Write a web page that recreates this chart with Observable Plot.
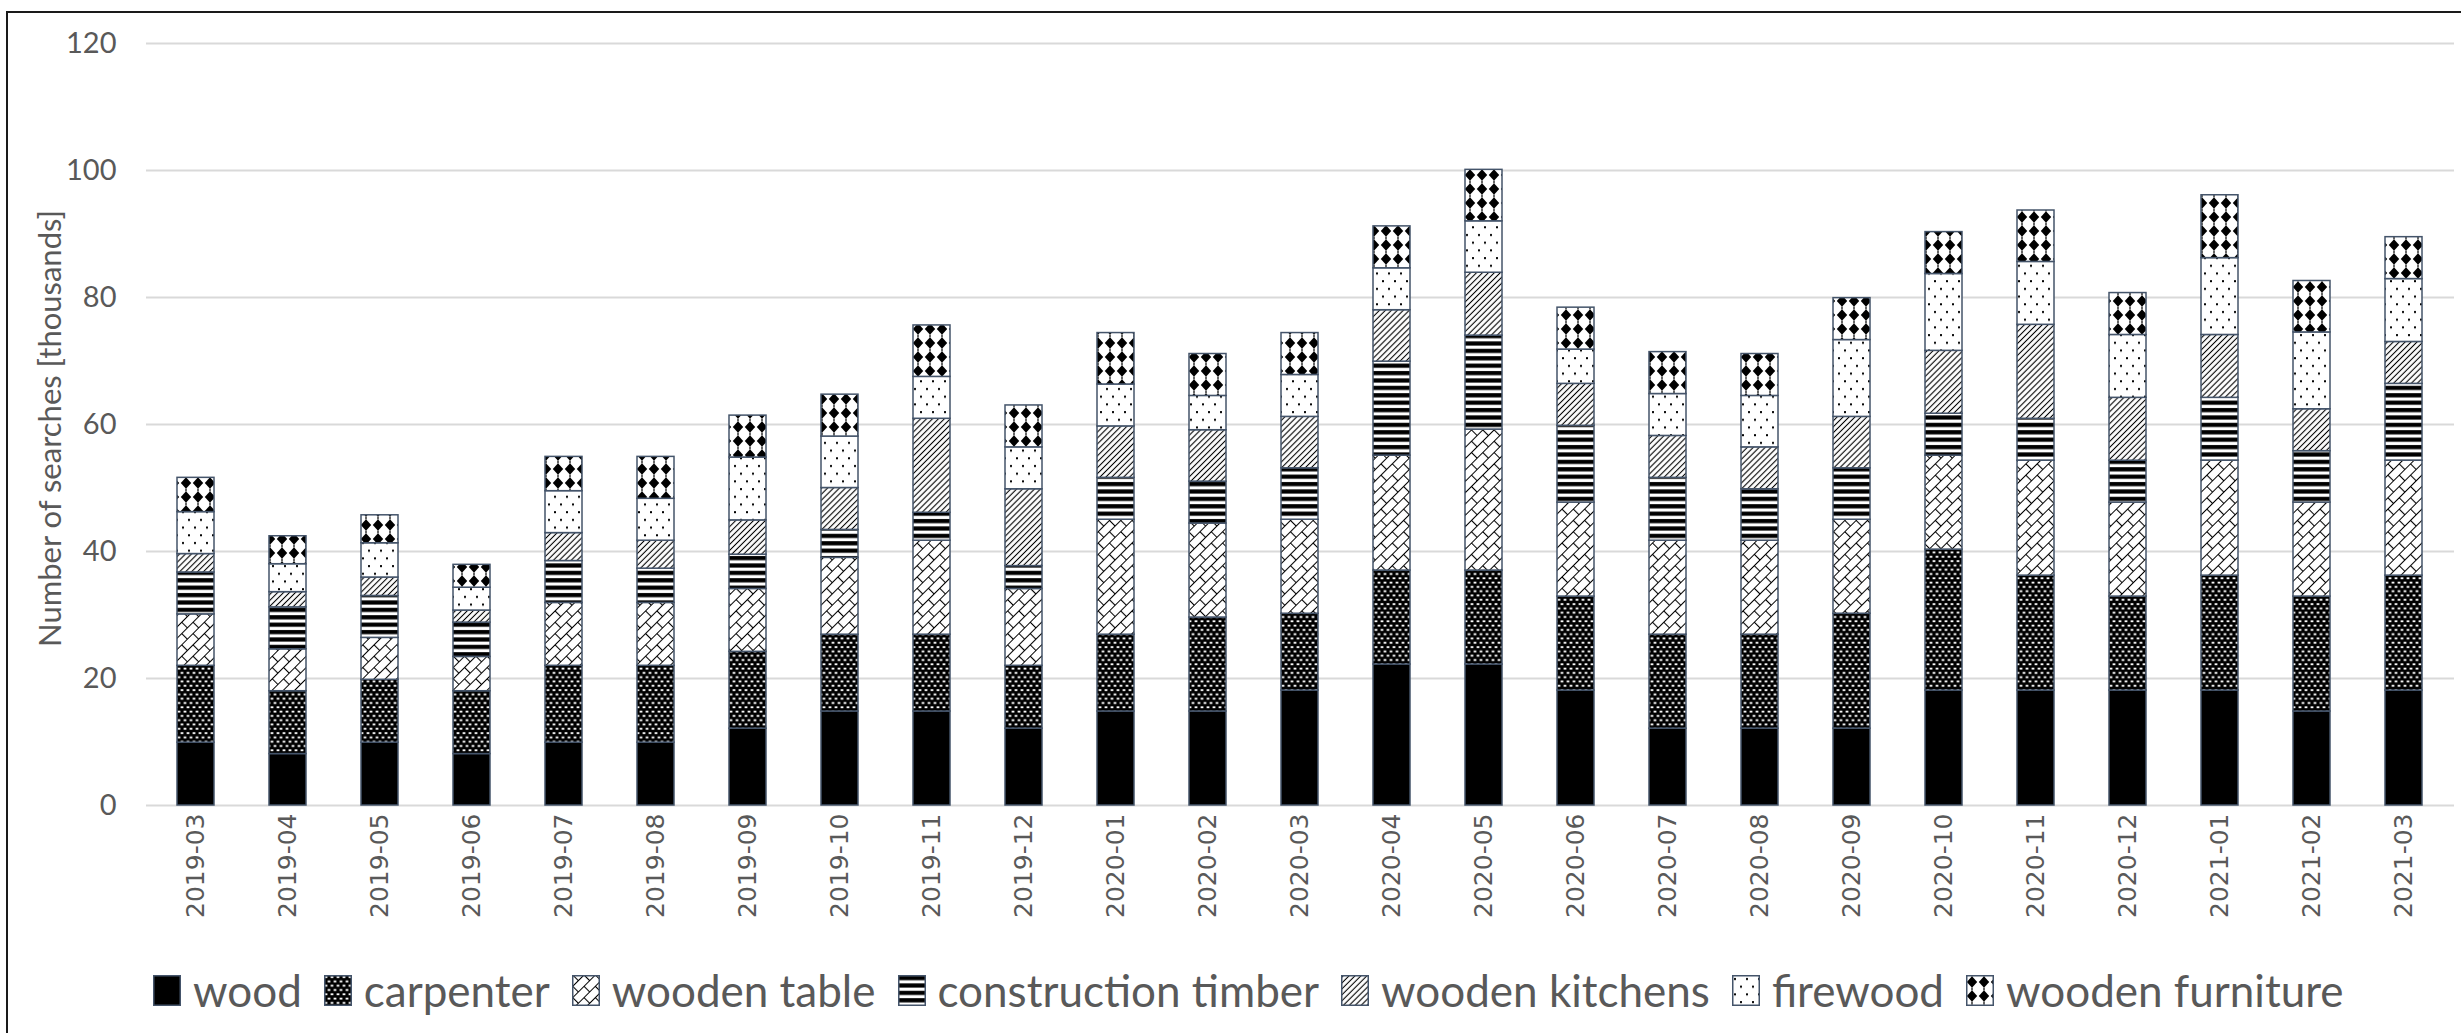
<!DOCTYPE html>
<html>
<head>
<meta charset="utf-8">
<script src="https://cdn.jsdelivr.net/npm/d3@7"></script>
<script src="https://cdn.jsdelivr.net/npm/@observablehq/plot@0.6"></script>
<style>
  html, body { margin: 0; padding: 0; background: #fff; overflow: hidden; }
  #wrap { position: relative; width: 2461px; height: 1033px; }
  #frame { position: absolute; left: 6px; top: 11px; width: 2480px; height: 1060px;
           border: 2px solid #1a1a1a; box-sizing: border-box; pointer-events: none; }
  #chart svg { display: block; }
  #legend { display: flex; align-items: center; height: 100px; padding-left: 153px;
            font-family: Lato, sans-serif; font-size: 44px; color: #595959; white-space: nowrap; }
  .item { display: flex; align-items: center; margin-right: 22px; }
  .item svg { margin-right: 12px; display: block; }
</style>
</head>
<body>
<div id="wrap">
  <div id="chart"></div>
  <div id="legend"></div>
  <div id="frame"></div>
</div>
<script>
// Monthly search volumes (thousands) per keyword
const months = ["2019-03","2019-04","2019-05","2019-06","2019-07","2019-08","2019-09","2019-10","2019-11","2019-12",
                "2020-01","2020-02","2020-03","2020-04","2020-05","2020-06","2020-07","2020-08","2020-09","2020-10",
                "2020-11","2020-12","2021-01","2021-02","2021-03"];
const series = ["wood","carpenter","wooden table","construction timber","wooden kitchens","firewood","wooden furniture"];

const wood = [9.9, 8.1, 9.9, 8.1, 9.9, 9.9, 12.1, 14.8, 14.8, 12.1, 14.8, 14.8, 18.1, 22.2, 22.2, 18.1, 12.1, 12.1, 12.1, 18.1, 18.1, 18.1, 18.1, 14.8, 18.1];
const carpenter = [12.1, 9.9, 9.9, 9.9, 12.1, 12.1, 12.1, 12.1, 12.1, 9.9, 12.1, 14.8, 12.1, 14.8, 14.8, 14.8, 14.8, 14.8, 18.1, 22.2, 18.1, 14.8, 18.1, 18.1, 18.1];
const woodenTable = [8.1, 6.6, 6.6, 5.4, 9.9, 9.9, 9.9, 12.1, 14.8, 12.1, 18.1, 14.8, 14.8, 18.1, 22.2, 14.8, 14.8, 14.8, 14.8, 14.8, 18.1, 14.8, 18.1, 14.8, 18.1];
const constructionTimber = [6.6, 6.6, 6.6, 5.4, 6.6, 5.4, 5.4, 4.4, 4.4, 3.6, 6.6, 6.6, 8.1, 14.8, 14.8, 12.1, 9.9, 8.1, 8.1, 6.6, 6.6, 6.6, 9.9, 8.1, 12.1];
const woodenKitchens = [2.9, 2.4, 2.9, 1.9, 4.4, 4.4, 5.4, 6.6, 14.8, 12.1, 8.1, 8.1, 8.1, 8.1, 9.9, 6.6, 6.6, 6.6, 8.1, 9.9, 14.8, 9.9, 9.9, 6.6, 6.6];
const firewood = [6.6, 4.4, 5.4, 3.6, 6.6, 6.6, 9.9, 8.1, 6.6, 6.6, 6.6, 5.4, 6.6, 6.6, 8.1, 5.4, 6.6, 8.1, 12.1, 12.1, 9.9, 9.9, 12.1, 12.1, 9.9];
const woodenFurniture = [5.4, 4.4, 4.4, 3.6, 5.4, 6.6, 6.6, 6.6, 8.1, 6.6, 8.1, 6.6, 6.6, 6.6, 8.1, 6.6, 6.6, 6.6, 6.6, 6.6, 8.1, 6.6, 9.9, 8.1, 6.6];

const yTicks = [0, 20, 40, 60, 80, 100, 120];
const yTitle = "Number of searches [thousands]";

const seriesValues = [wood, carpenter, woodenTable, constructionTimber, woodenKitchens, firewood, woodenFurniture];
const patternIds = ["pat-wood", "pat-carpenter", "pat-table", "pat-timber", "pat-kitchens", "pat-firewood", "pat-furniture"];

const rows = months.flatMap((m, i) =>
  series.map((s, j) => ({month: m, series: s, value: seriesValues[j][i]}))
);

const outline = "#44546a";
const textColor = "#595959";

const chart = Plot.plot({
  width: 2461,
  height: 940,
  marginTop: 43,
  marginBottom: 135,
  marginLeft: 146,
  marginRight: 7,
  style: {fontFamily: "Lato, sans-serif", fontSize: "28px", color: textColor, background: "transparent"},
  x: {type: "band", domain: months, paddingInner: 0.594, paddingOuter: 0.297},
  y: {domain: [0, 120]},
  color: {type: "ordinal", domain: series, range: patternIds.map(id => `url(#${id})`)},
  marks: [
    Plot.ruleY(yTicks, {stroke: "#d9d9d9", strokeWidth: 2}),
    Plot.barY(rows, {x: "month", y: "value", fill: "series", stroke: outline, strokeWidth: 1.5}),
    Plot.axisY({ticks: yTicks, tickSize: 0, tickPadding: 30, fontSize: 29, fill: textColor, label: null}),
    Plot.axisX({tickSize: 0, tickPadding: 8, tickRotate: -90, fontSize: 25, fontFamily: "DejaVu Sans",
                fill: textColor, label: null}),
    Plot.text([yTitle], {frameAnchor: "left", rotate: -90, dx: -95, dy: 4, fontSize: 31,
                         fill: textColor, textAnchor: "middle", lineAnchor: "middle"})
  ]
});

// Fill patterns for the stacked segments
function addPatterns(svg) {
  const defs = d3.select(svg).insert("defs", ":first-child");
  // solid
  defs.append("pattern").attr("id", "pat-wood").attr("patternUnits", "userSpaceOnUse")
    .attr("width", 8).attr("height", 8)
    .append("rect").attr("width", 8).attr("height", 8).attr("fill", "#000");
  // black with small white dashes
  const c = defs.append("pattern").attr("id", "pat-carpenter").attr("patternUnits", "userSpaceOnUse")
    .attr("width", 6).attr("height", 8.6);
  c.append("rect").attr("width", 6).attr("height", 8.6).attr("fill", "#000");
  c.append("rect").attr("x", 0.6).attr("y", 1.2).attr("width", 2.8).attr("height", 1.8).attr("fill", "#fff");
  c.append("rect").attr("x", 3.6).attr("y", 5.5).attr("width", 2.8).attr("height", 1.8).attr("fill", "#fff");
  c.append("rect").attr("x", -2.4).attr("y", 5.5).attr("width", 2.8).attr("height", 1.8).attr("fill", "#fff");
  // diagonal brick
  const t = defs.append("pattern").attr("id", "pat-table").attr("patternUnits", "userSpaceOnUse")
    .attr("width", 16).attr("height", 16).attr("patternTransform", "rotate(-45)");
  t.append("rect").attr("width", 16).attr("height", 16).attr("fill", "#fff");
  t.append("path").attr("d", "M0 0.5H16M0 8.5H16M0.5 0V8.5M8.5 8.5V16")
    .attr("stroke", "#000").attr("stroke-width", 1.1).attr("fill", "none");
  // thick horizontal stripes
  const h = defs.append("pattern").attr("id", "pat-timber").attr("patternUnits", "userSpaceOnUse")
    .attr("width", 10).attr("height", 7.4);
  h.append("rect").attr("width", 10).attr("height", 7.4).attr("fill", "#fff");
  h.append("rect").attr("y", 1).attr("width", 10).attr("height", 4.2).attr("fill", "#000");
  // thin upward diagonals
  const k = defs.append("pattern").attr("id", "pat-kitchens").attr("patternUnits", "userSpaceOnUse")
    .attr("width", 10).attr("height", 4.2).attr("patternTransform", "rotate(-45)");
  k.append("rect").attr("width", 10).attr("height", 4.2).attr("fill", "#fff");
  k.append("path").attr("d", "M0 2.1H10").attr("stroke", "#000").attr("stroke-width", 1.1);
  // sparse dots
  const f = defs.append("pattern").attr("id", "pat-firewood").attr("patternUnits", "userSpaceOnUse")
    .attr("width", 12).attr("height", 15.4);
  f.append("rect").attr("width", 12).attr("height", 15.4).attr("fill", "#fff");
  f.append("rect").attr("x", 2).attr("y", 3).attr("width", 2).attr("height", 2).attr("fill", "#000");
  f.append("rect").attr("x", 8).attr("y", 10.7).attr("width", 2).attr("height", 2).attr("fill", "#000");
  // solid diamonds
  const d = defs.append("pattern").attr("id", "pat-furniture").attr("patternUnits", "userSpaceOnUse")
    .attr("width", 12).attr("height", 14);
  d.append("rect").attr("width", 12).attr("height", 14).attr("fill", "#fff");
  d.append("path").attr("d", "M6 1.2L11.2 7L6 12.8L0.8 7Z").attr("fill", "#000");
  d.append("rect").attr("x", 5.4).attr("y", 0).attr("width", 1.2).attr("height", 1.4).attr("fill", "#000");
  d.append("rect").attr("x", 5.4).attr("y", 12.6).attr("width", 1.2).attr("height", 1.4).attr("fill", "#000");
}
addPatterns(chart);
document.getElementById("chart").append(chart);

// Legend below the chart
const legend = d3.select("#legend");
series.forEach((s, j) => {
  const item = legend.append("div").attr("class", "item");
  const sw = item.append("svg").attr("width", 28).attr("height", 31);
  sw.append("rect").attr("x", 0.75).attr("y", 0.75).attr("width", 26.5).attr("height", 29.5)
    .attr("fill", `url(#${patternIds[j]})`).attr("stroke", outline).attr("stroke-width", 1.5);
  item.append("span").text(s);
});
</script>
</body>
</html>
